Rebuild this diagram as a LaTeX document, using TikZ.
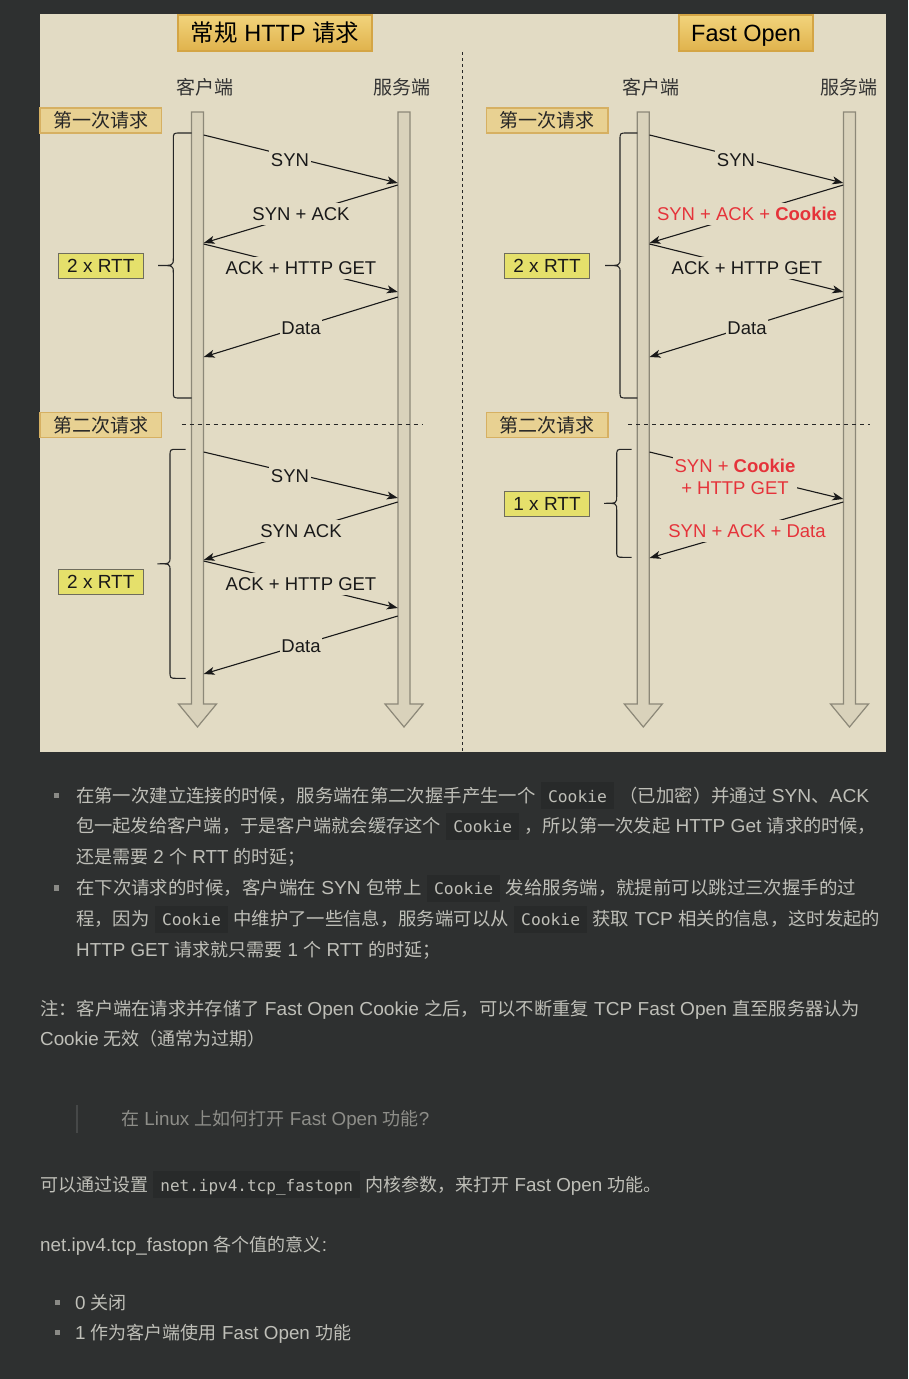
\documentclass[tikz,border=0pt]{standalone}
\usepackage{fontspec}
\usepackage{graphicx}
\setmainfont{Liberation Sans}
\newfontfamily\latf{Liberation Sans}[Scale=1.045]
\newfontfamily\cjk{Noto Sans CJK SC}
\newfontfamily\monof{DejaVu Sans Mono}
\usetikzlibrary{arrows.meta}
\definecolor{pagebg}{HTML}{2E3030}
\definecolor{diagbg}{HTML}{E2DBC4}
\definecolor{lifefill}{HTML}{D9D2BB}
\definecolor{lifedraw}{HTML}{8C8878}
\definecolor{goldtop}{HTML}{F2D47C}
\definecolor{goldbot}{HTML}{E0B24C}
\definecolor{goldline}{HTML}{D4A545}
\definecolor{reqfill}{HTML}{E8D192}
\definecolor{reqline}{HTML}{D6B062}
\definecolor{rttfill}{HTML}{E5E06B}
\definecolor{rttline}{HTML}{6F6D5D}
\definecolor{redtxt}{HTML}{E5333A}
\definecolor{maintxt}{HTML}{BFBFB8}
\definecolor{quotetxt}{HTML}{8E8E89}
\definecolor{codebg}{HTML}{282A2A}
\definecolor{bulletc}{HTML}{8A8A86}
\definecolor{quotebar}{HTML}{464848}
\newcommand\zh[1]{{\cjk #1}}
\newcommand\cd[1]{{\setlength\fboxsep{0pt}\colorbox{codebg}{\rule[-7pt]{0pt}{27pt}\hspace{7pt}{\monof\fontsize{16}{20}\selectfont #1}\hspace{7pt}}}}
\newcommand\lifeline[2]{%
  \draw[lifesty] (#2-6,112) -- (#2+6,112) -- (#2+6,704) -- (#2+19,704) -- (#2,727) -- (#2-19,704) -- (#2-6,704) -- cycle;
  \node[inner sep=0pt, minimum width=12pt, minimum height=592pt, anchor=north] (#1) at (#2,112) {};
}
\newcommand\curlybrace[5]{% xr, xv, xt, ytop, ybot
  \draw[bracesty] (#1,#4) -- (#2+7,#4) .. controls (#2,#4) .. (#2,#4+7)
    -- (#2,{(#4+#5)/2-7}) .. controls (#2,{(#4+#5)/2}) .. (#3,{(#4+#5)/2})
    .. controls (#2,{(#4+#5)/2}) .. (#2,{(#4+#5)/2+7})
    -- (#2,#5-7) .. controls (#2,#5) .. (#2+7,#5) -- (#1,#5);
}
\tikzset{
  lifesty/.style={fill=lifefill, draw=lifedraw, line width=1.2pt},
  bracesty/.style={draw=black!85, line width=1.1pt},
  msg/.style={draw=black!90, line width=1.1pt, -{Stealth[length=11pt,width=8pt,inset=3pt]}},
  lbl/.style={fill=diagbg, inner xsep=1.5pt, inner ysep=4.5pt, text=black!90, font=\fontsize{18.5}{22}\selectfont},
  redlbl/.style={lbl, text=redtxt},
  header/.style={draw=goldline, line width=1.2pt, top color=goldtop, bottom color=goldbot, minimum height=36pt, inner sep=0pt, text height=17pt, text depth=0pt, font=\fontsize{23.5}{28}\selectfont, text=black},
  reqbox/.style={draw=reqline, line width=1.2pt, fill=reqfill, minimum width=121.7pt, minimum height=25pt, inner sep=0pt, font=\cjk\fontsize{19}{22}\selectfont, text=black!85},
  rttbox/.style={draw=rttline, line width=1.2pt, fill=rttfill, minimum width=85pt, minimum height=25pt, inner sep=0pt, font=\fontsize{19}{22}\selectfont, text=black!90},
  role/.style={inner sep=0pt, font=\cjk\fontsize{19}{22}\selectfont, text=black!80},
  txt/.style={inner sep=0pt, anchor=base west, text=maintxt, font=\latf\fontsize{18}{21}\selectfont},
  bullet/.style={fill=bulletc, inner sep=0pt, minimum size=5.5pt},
}
\begin{document}
\begin{tikzpicture}[x=1pt, y=-1pt]
\fill[pagebg] (0,0) rectangle (908,1379);
\useasboundingbox (0,0) rectangle (908,1379);
\fill[diagbg] (40,14) rectangle (886,752);

% headers
\node[header, minimum width=194pt] (h1) at (275,33) {\zh{常规} HTTP \zh{请求}};
\node[header, minimum width=134pt] (h2) at (746,33) {Fast Open};

% separator
\draw[black!85, line width=1.2pt, dash pattern=on 3pt off 3pt] (462.7,52) -- (462.7,752);

% roles
\node[role] (rc1) at (205,87) {客户端};
\node[role] (rs1) at (402,87) {服务端};
\node[role] (rc2) at (651,87) {客户端};
\node[role] (rs2) at (849,87) {服务端};

% lifelines
\lifeline{cL}{197.5}
\lifeline{sL}{404}
\lifeline{cR}{643.3}
\lifeline{sR}{849.5}

% request boxes
\node[reqbox] (q1L) at (100.8,120.5) {第一次请求};
\node[reqbox] (q2L) at (100.8,425.2) {第二次请求};
\node[reqbox] (q1R) at (547.2,120.5) {第一次请求};
\node[reqbox] (q2R) at (547.2,425.2) {第二次请求};

% dashed request separators
\draw[black!85, line width=1pt, dash pattern=on 4pt off 4pt] (181.7,424) -- (423,424);
\draw[black!85, line width=1pt, dash pattern=on 4pt off 4pt] (628,424) -- (870,424);

% braces
\curlybrace{191.7}{173.3}{158}{133}{398}
\curlybrace{185.7}{170}{157.3}{449.3}{678.3}
\curlybrace{637.3}{620}{605}{133}{398}
\curlybrace{631.7}{616.7}{604}{449.3}{557.3}

% RTT boxes
\node[rttbox] (rtt1) at (100.8,265.8) {2 x RTT};
\node[rttbox] (rtt2) at (100.8,581.7) {2 x RTT};
\node[rttbox] (rtt3) at (547,265.8) {2 x RTT};
\node[rttbox] (rtt4) at (547,503.9) {1 x RTT};

% left, first request
\draw[msg] (cL.east |- 0,135) -- (sL.west |- 0,183) node[lbl] (m1) at (290,160) {SYN};
\draw[msg] (sL.west |- 0,185) -- (cL.east |- 0,243) node[lbl] (m2) at (301,214) {SYN + ACK};
\draw[msg] (cL.east |- 0,244) -- (sL.west |- 0,292) node[lbl] (m3) at (301,268) {ACK + HTTP GET};
\draw[msg] (sL.west |- 0,297) -- (cL.east |- 0,357) node[lbl] (m4) at (301,328) {Data};
% left, second request
\draw[msg] (cL.east |- 0,452) -- (sL.west |- 0,498) node[lbl] (m5) at (290,476) {SYN};
\draw[msg] (sL.west |- 0,502) -- (cL.east |- 0,560) node[lbl] (m6) at (301,531) {SYN ACK};
\draw[msg] (cL.east |- 0,561) -- (sL.west |- 0,608) node[lbl] (m7) at (301,584) {ACK + HTTP GET};
\draw[msg] (sL.west |- 0,616) -- (cL.east |- 0,674) node[lbl] (m8) at (301,646) {Data};
% right, first request
\draw[msg] (cR.east |- 0,135) -- (sR.west |- 0,183) node[lbl] (n1) at (736,160) {SYN};
\draw[msg] (sR.west |- 0,185) -- (cR.east |- 0,243) node[redlbl] (n2) at (747,214) {SYN + ACK + \textbf{Cookie}};
\draw[msg] (cR.east |- 0,244) -- (sR.west |- 0,292) node[lbl] (n3) at (747,268) {ACK + HTTP GET};
\draw[msg] (sR.west |- 0,297) -- (cR.east |- 0,357) node[lbl] (n4) at (747,328) {Data};
% right, second request
\draw[msg] (cR.east |- 0,452) -- (sR.west |- 0,499) node[redlbl, align=center, inner ysep=3pt, font=\fontsize{18.5}{22}\selectfont] (n5) at (735,477) {SYN + \textbf{Cookie}\\+ HTTP GET};
\draw[msg] (sR.west |- 0,502) -- (cR.east |- 0,558) node[redlbl] (n6) at (747,531) {SYN + ACK + Data};

% ---------- text below ----------
\node[bullet] (b1) at (56.3,795.5) {};
\node[txt] (l1) at (76,802) {\resizebox{793pt}{\height}{\zh{在第一次建立连接的时候，服务端在第二次握手产生一个} \cd{Cookie} \zh{（已加密）并通过} SYN\zh{、}ACK}};
\node[txt] (l2) at (76,832.5) {\resizebox{800pt}{\height}{\zh{包一起发给客户端，于是客户端就会缓存这个} \cd{Cookie} \zh{，所以第一次发起} HTTP Get \zh{请求的时候，}}};
\node[txt] (l3) at (76,863) {\zh{还是需要} 2 \zh{个} RTT \zh{的时延；}};
\node[bullet] (b2) at (56.3,888) {};
\node[txt] (l4) at (76,894.5) {\resizebox{780pt}{\height}{\zh{在下次请求的时候，客户端在} SYN \zh{包带上} \cd{Cookie} \zh{发给服务端，就提前可以跳过三次握手的过}}};
\node[txt] (l5) at (76,925.5) {\resizebox{804pt}{\height}{\zh{程，因为} \cd{Cookie} \zh{中维护了一些信息，服务端可以从} \cd{Cookie} \zh{获取} TCP \zh{相关的信息，这时发起的}}};
\node[txt] (l6) at (76,956.5) {HTTP GET \zh{请求就只需要} 1 \zh{个} RTT \zh{的时延；}};

\node[txt] (p1) at (40,1015.5) {\resizebox{820pt}{\height}{\zh{注：客户端在请求并存储了} Fast Open Cookie \zh{之后，可以不断重复} TCP Fast Open \zh{直至服务器认为}}};
\node[txt] (p2) at (40,1045.5) {Cookie \zh{无效（通常为过期）}};

\draw[quotebar, line width=2.5pt] (77,1105) -- (77,1133);
\node[txt, text=quotetxt] (qt) at (121,1125.5) {\zh{在} Linux \zh{上如何打开} Fast Open \zh{功能}?};

\node[txt] (p3) at (40,1191) {\zh{可以通过设置} \cd{net.ipv4.tcp\_fastopn} \zh{内核参数，来打开} Fast Open \zh{功能。}};
\node[txt] (p4) at (40,1251) {net.ipv4.tcp\_fastopn \zh{各个值的意义}:};

\node[bullet] (b3) at (57.5,1302.5) {};
\node[txt] (l7) at (75,1309) {0 \zh{关闭}};
\node[bullet] (b4) at (57.5,1332.3) {};
\node[txt] (l8) at (75,1339) {1 \zh{作为客户端使用} Fast Open \zh{功能}};
\end{tikzpicture}
\end{document}
